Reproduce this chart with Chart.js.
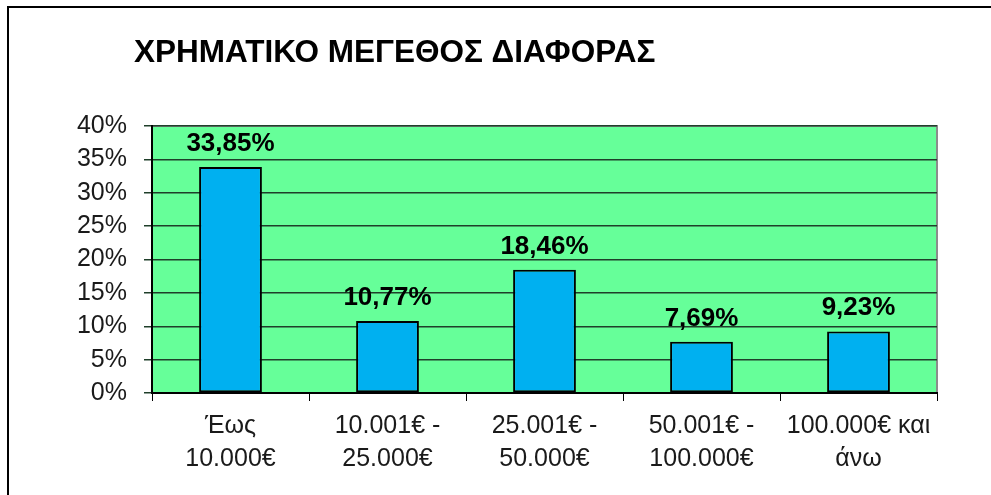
<!DOCTYPE html>
<html>
<head>
<meta charset="utf-8">
<script src="https://cdn.jsdelivr.net/npm/chart.js@4.4.1/dist/chart.umd.min.js"></script>
<style>
  html, body { margin: 0; padding: 0; background: #fff; }
  #wrap { position: relative; width: 991px; height: 495px; }
</style>
</head>
<body>
<div id="wrap"><canvas id="chartDiff" width="991" height="495"></canvas></div>
<script>
  const titleText = 'ΧΡΗΜΑΤΙΚΟ ΜΕΓΕΘΟΣ ΔΙΑΦΟΡΑΣ';
  const categories = [
      ['Έως', '10.000€'],
      ['10.001€ -', '25.000€'],
      ['25.001€ -', '50.000€'],
      ['50.001€ -', '100.000€'],
      ['100.000€ και', 'άνω']
  ];
  const percents = [33.85, 10.77, 18.46, 7.69, 9.23];
  const yMax  = 40;
  const yStep = 5;

  const green   = '#66ff99';
  const blue    = '#00b0f0';
  const fontFam = '"Liberation Sans", Arial, sans-serif';

  // frame, green plot area and title
  const backdrop = {
      id: 'backdrop',
      beforeDraw(chart) {
          const ctx = chart.ctx;
          const a = chart.chartArea;
          ctx.save();
          ctx.fillStyle = '#fff';
          ctx.fillRect(0, 0, chart.width, chart.height);
          ctx.strokeStyle = '#000';
          ctx.lineWidth = 2;
          ctx.beginPath();
          ctx.moveTo(8, chart.height);
          ctx.lineTo(8, 7);
          ctx.lineTo(chart.width, 7);
          ctx.stroke();
          ctx.fillStyle = green;
          ctx.fillRect(a.left, a.top, a.right - a.left, a.bottom - a.top);
          ctx.strokeStyle = '#8c8c8c';
          ctx.lineWidth = 2;
          ctx.beginPath();
          ctx.moveTo(a.left, a.top);
          ctx.lineTo(a.right, a.top);
          ctx.lineTo(a.right, a.bottom);
          ctx.stroke();
          ctx.fillStyle = '#000';
          ctx.font = 'bold 31.5px ' + fontFam;
          ctx.textBaseline = 'alphabetic';
          ctx.textAlign = 'left';
          ctx.fillText(titleText, 134, 62);
          ctx.restore();
      }
  };

  const valueLabels = {
      id: 'valueLabels',
      afterDatasetsDraw(chart) {
          const ctx = chart.ctx;
          const meta = chart.getDatasetMeta(0);
          ctx.save();
          ctx.fillStyle = '#000';
          ctx.font = 'bold 26px ' + fontFam;
          ctx.textAlign = 'center';
          ctx.textBaseline = 'alphabetic';
          meta.data.forEach((bar, i) => {
              const txt = percents[i].toFixed(2).replace('.', ',') + '%';
              ctx.fillText(txt, bar.x, bar.y - 16);
          });
          ctx.restore();
      }
  };

  new Chart(document.getElementById('chartDiff'), {
      type: 'bar',
      data: {
          labels: categories,
          datasets: [{
              data: percents,
              backgroundColor: blue,
              borderColor: '#000',
              borderWidth: 2,
              borderSkipped: false,
              barPercentage: 0.4,
              categoryPercentage: 1
          }]
      },
      options: {
          responsive: false,
          animation: false,
          layout: { padding: { top: 126, right: 54, left: 0, bottom: 0 } },
          plugins: {
              legend: { display: false },
              tooltip: { enabled: false }
          },
          scales: {
              x: {
                  afterFit: (s) => { s.height = 102; },
                  grid: { offset: true, drawOnChartArea: false, tickLength: 8, color: '#000' },
                  border: { color: '#000', width: 2 },
                  ticks: {
                      color: '#1a1a1a',
                      padding: 9,
                      maxRotation: 0,
                      font: { family: fontFam, size: 25, lineHeight: 1.32 }
                  }
              },
              y: {
                  min: 0,
                  max: yMax,
                  afterFit: (s) => { s.width = 152; },
                  grid: { color: '#1f3f2a', lineWidth: 1.5, tickLength: 8 },
                  border: { color: '#000', width: 2 },
                  ticks: {
                      stepSize: yStep,
                      color: '#1a1a1a',
                      padding: 17,
                      font: { family: fontFam, size: 25 },
                      callback: (v) => v + '%'
                  }
              }
          }
      },
      plugins: [backdrop, valueLabels]
  });
</script>
</body>
</html>
